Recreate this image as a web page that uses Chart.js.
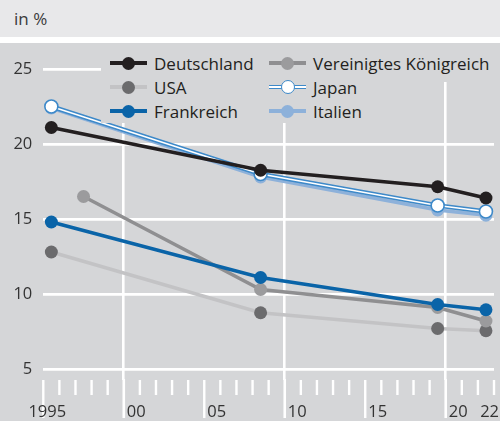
<!DOCTYPE html>
<html>
<head>
<meta charset="utf-8">
<script src="https://cdn.jsdelivr.net/npm/chart.js@4.4.1/dist/chart.umd.min.js"></script>
<style>
  html, body { margin: 0; padding: 0; }
  body { width: 500px; height: 421px; position: relative; overflow: hidden; background: #ffffff; font-family: "Open Sans", "Noto Sans", sans-serif; }
  #head { position: absolute; left: 0; top: 0; width: 500px; height: 37px; background: #e8e8ea; }
  #unit { position: absolute; left: 14px; top: 7px; font-size: 17px; color: #3a3a3a; line-height: 24px; }
  #wrap { position: absolute; left: 0; top: 43px; width: 500px; height: 378px; background: #d5d6d8; }
  .item { position: absolute; background: #d5d6d8; height: 24px; display: flex; align-items: center; font-size: 17px; color: #231f20; white-space: nowrap; }
  .sym { position: relative; width: 37px; height: 16px; margin-right: 7px; flex: none; }
  .sym .ln { position: absolute; left: 0; right: 0; top: 6px; height: 4px; }
  .sym .dot { position: absolute; left: 12px; top: 1.5px; width: 13px; height: 13px; border-radius: 50%; }
</style>
</head>
<body>
<div id="head"><div id="unit">in %</div></div>
<div id="wrap"><canvas id="c" width="500" height="378"></canvas></div>
<div id="legend"></div>
<script>
// ---- data ----
const yearsMain = [1995, 2008, 2019, 2022];
const yearsUK = [1997, 2008, 2019, 2022];
const deutschland = [21.1, 18.25, 17.15, 16.4];
const vereinigtesKoenigreich = [16.5, 10.3, 9.1, 8.2];
const usa = [12.8, 8.75, 7.7, 7.55];
const japan = [22.5, 18.0, 15.9, 15.5];
const frankreich = [14.8, 11.1, 9.3, 8.95];
const italien = [22.4, 17.8, 15.6, 15.25];
const yTicks = [5, 10, 15, 20, 25];
const xTickYears = [1995, 2000, 2005, 2010, 2015, 2020, 2022];
const xTickLabels = ['1995', '00', '05', '10', '15', '20', '22'];

const colors = {
  deutschland: '#231f20',
  ukLine: '#8f8f91', ukDot: '#9b9b9d',
  usaLine: '#c3c3c5', usaDot: '#6b6b6d',
  japan: '#3d89c9',
  frankreich: '#0a64a8',
  italien: '#8db1da',
  grid: '#ffffff',
  bg: '#d5d6d8'
};

// year band centre (each year occupies one unit on the axis)
const pts = (yrs, vals) => yrs.map((y, i) => ({ x: y + 0.5, y: vals[i] }));

function ds(label, yrs, vals, line, dot, extra) {
  return Object.assign({
    label: label,
    data: pts(yrs, vals),
    borderColor: line,
    backgroundColor: dot,
    pointBackgroundColor: dot,
    pointBorderColor: dot,
    pointRadius: 6.5,
    pointBorderWidth: 0,
    borderWidth: 3.5,
    tension: 0,
    fill: false
  }, extra || {});
}

const datasets = [
  ds('Deutschland', yearsMain, deutschland, colors.deutschland, colors.deutschland),
  ds('Frankreich', yearsMain, frankreich, colors.frankreich, colors.frankreich),
  ds('Japan', yearsMain, japan, '#ffffff', '#ffffff', { borderWidth: 1.6, pointRadius: 6.5, pointBorderWidth: 1.6, pointBorderColor: colors.japan }),
  ds('Japan (Kontur)', yearsMain, japan, colors.japan, colors.japan, { borderWidth: 4.6, pointRadius: 0 }),
  ds('Italien', yearsMain, italien, colors.italien, colors.italien),
  ds('Vereinigtes Königreich', yearsUK, vereinigtesKoenigreich, colors.ukLine, colors.ukDot),
  ds('USA', yearsMain, usa, colors.usaLine, colors.usaDot)
];

// x-axis tick marks and labels drawn through the x scale
const xAxisPlugin = {
  id: 'xAxisMarks',
  beforeDatasetsDraw(chart) {
    const ctx = chart.ctx, xs = chart.scales.x, ca = chart.chartArea;
    ctx.save();
    ctx.strokeStyle = colors.grid;
    for (let yr = Math.ceil(xs.min); yr <= xs.max; yr++) {
      const px = xs.getPixelForValue(yr);
      let top = ca.bottom, bot = ca.bottom + 15, w = 2.4;
      if (yr % 10 === 0) { top = ca.bottom - 1; bot = ca.bottom + 38; w = 2.6; }
      else if (yr % 5 === 0) { bot = ca.bottom + 38; }
      ctx.lineWidth = w;
      ctx.beginPath(); ctx.moveTo(px, top); ctx.lineTo(px, bot); ctx.stroke();
    }
    ctx.restore();
  },
  afterDraw(chart) {
    const ctx = chart.ctx, xs = chart.scales.x, ca = chart.chartArea;
    ctx.save();
    ctx.font = '16.5px "Open Sans", "Noto Sans", sans-serif';
    ctx.fillStyle = '#333333';
    ctx.textBaseline = 'alphabetic';
    xTickYears.forEach((yr, i) => {
      const px = xs.getPixelForValue(yr);
      const txt = xTickLabels[i];
      if (i === 0) { ctx.textAlign = 'center'; ctx.fillText(txt, px + 4, ca.bottom + 37); }
      else if (i === xTickYears.length - 1) { ctx.textAlign = 'right'; ctx.fillText(txt, chart.width - 1, ca.bottom + 37); }
      else { ctx.textAlign = 'left'; ctx.fillText(txt, px + 3, ca.bottom + 37); }
    });
    ctx.restore();
  }
};

new Chart(document.getElementById('c'), {
  type: 'line',
  data: { datasets: datasets },
  plugins: [xAxisPlugin],
  options: {
    responsive: false,
    animation: false,
    events: [],
    layout: { autoPadding: false, padding: { left: 0, right: 6, top: 0, bottom: 0 } },
    plugins: { legend: { display: false }, tooltip: { enabled: false }, title: { display: false } },
    scales: {
      x: {
        type: 'linear',
        min: 1995,
        max: 2023,
        afterBuildTicks: s => { s.ticks = [2000, 2010, 2020].map(v => ({ value: v })); },
        afterFit: s => { s.height = 41; s.paddingLeft = 0; s.paddingRight = 0; s.paddingTop = 0; s.paddingBottom = 0; },
        ticks: { display: false },
        border: { display: false },
        grid: { color: colors.grid, lineWidth: 2.6, drawTicks: false }
      },
      y: {
        min: 4.2667,
        max: 26.7333,
        afterBuildTicks: s => { s.ticks = yTicks.map(v => ({ value: v })); },
        afterFit: s => { s.width = 43.3; s.paddingTop = 0; s.paddingBottom = 0; s.paddingLeft = 0; s.paddingRight = 0; },
        border: { display: false },
        grid: { color: colors.grid, lineWidth: 2.8, drawTicks: false },
        ticks: {
          padding: 11,
          color: '#333333',
          font: { family: '"Open Sans", "Noto Sans", sans-serif', size: 16.5 }
        }
      }
    }
  }
});

// HTML legend
const legendItems = [
  { label: 'Deutschland', line: colors.deutschland, dot: colors.deutschland, left: 101, top: 43, h: 39, w: 161, pt: 8 },
  { label: 'USA', line: colors.usaLine, dot: colors.usaDot, left: 101, top: 75, h: 24, w: 161, pt: 0 },
  { label: 'Frankreich', line: colors.frankreich, dot: colors.frankreich, left: 101, top: 99, h: 24, w: 161, pt: 0 },
  { label: 'Vereinigtes Königreich', line: colors.ukLine, dot: colors.ukDot, left: 262, top: 43, h: 39, w: 238, pt: 8 },
  { label: 'Japan', line: colors.japan, dot: '#ffffff', japan: true, left: 262, top: 75, h: 24, w: 110, pt: 0 },
  { label: 'Italien', line: colors.italien, dot: colors.italien, left: 262, top: 99, h: 24, w: 110, pt: 0 }
];
const lg = document.getElementById('legend');
legendItems.forEach(it => {
  const d = document.createElement('div');
  d.className = 'item';
  d.style.left = it.left + 'px';
  d.style.top = it.top + 'px';
  d.style.width = it.w + 'px';
  d.style.height = (it.h - it.pt) + 'px';
  d.style.paddingTop = it.pt + 'px';
  d.style.alignItems = it.pt ? 'flex-start' : 'center';
  d.style.paddingLeft = (it.left === 101 ? 9 : 7) + 'px';
  d.style.boxSizing = 'content-box';
  const inner = document.createElement('div');
  inner.style.display = 'flex'; inner.style.alignItems = 'center'; inner.style.height = '24px';
  const sym = document.createElement('div'); sym.className = 'sym';
  const ln = document.createElement('div'); ln.className = 'ln';
  const dot = document.createElement('div'); dot.className = 'dot';
  if (it.japan) {
    ln.style.background = '#ffffff';
    ln.style.borderTop = '1.5px solid ' + it.line;
    ln.style.borderBottom = '1.5px solid ' + it.line;
    ln.style.height = '2px';
    ln.style.top = '5.5px';
    dot.style.background = '#ffffff';
    dot.style.border = '1.6px solid ' + it.line;
    dot.style.boxSizing = 'border-box';
    dot.style.width = '14px'; dot.style.height = '14px'; dot.style.top = '1px';
  } else {
    ln.style.background = it.line;
    dot.style.background = it.dot;
  }
  sym.appendChild(ln); sym.appendChild(dot);
  const tx = document.createElement('span'); tx.textContent = it.label;
  inner.appendChild(sym); inner.appendChild(tx);
  d.appendChild(inner);
  lg.appendChild(d);
});
</script>
</body>
</html>
